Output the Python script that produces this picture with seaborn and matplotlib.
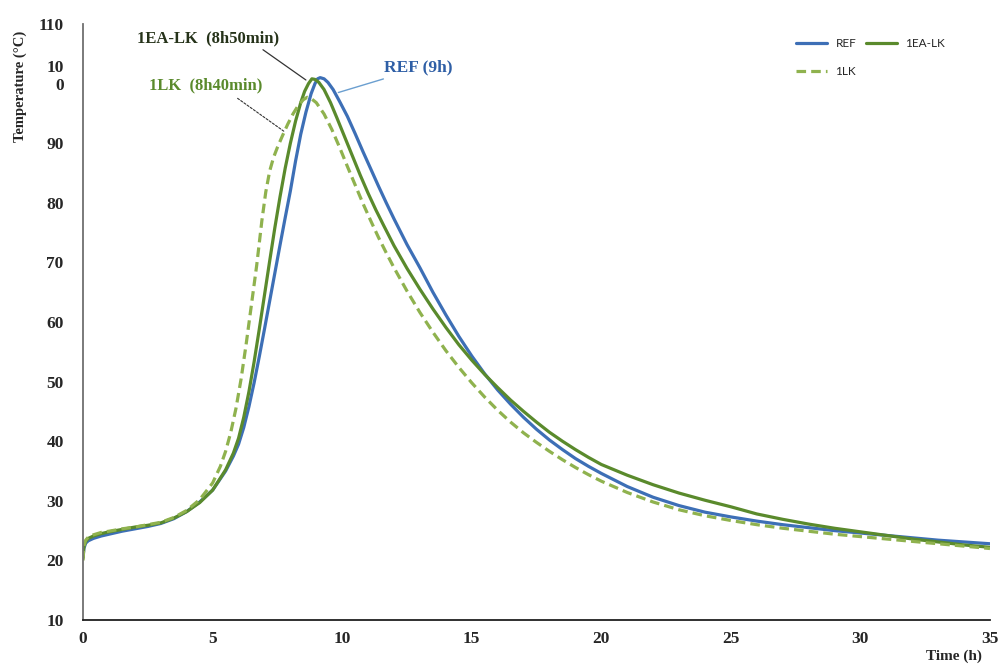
import numpy as np
import pandas as pd
import matplotlib
matplotlib.use("Agg")
import matplotlib.pyplot as plt
import matplotlib.transforms as mtransforms
import seaborn as sns
from matplotlib.lines import Line2D

# ---- data ----
ref_t = [0, 0.03, 0.1, 0.2, 0.4, 0.7, 1, 1.5, 2, 2.5, 3, 3.5, 4, 4.5, 5, 5.5, 5.8, 6.0, 6.2,
         6.4, 6.6, 6.8, 7.0, 7.2, 7.4, 7.6, 7.8, 8.0, 8.2, 8.4, 8.6, 8.8, 8.95, 9.05, 9.15,
         9.3, 9.45, 9.65, 9.9, 10.2, 10.5, 10.8, 11.1, 11.4, 11.7, 12.0, 12.5, 13.0, 13.5,
         14.0, 14.5, 15.0, 15.5, 16.0, 16.5, 17.0, 17.5, 18.0, 18.5, 19.0, 19.5, 20, 21, 22,
         23, 24, 25, 26, 27, 28, 29, 30, 31, 32, 33, 34, 35]
ref_T = [20.5, 22.0, 22.9, 23.3, 23.7, 24.1, 24.4, 24.9, 25.3, 25.7, 26.2, 27.0, 28.2, 29.8,
         31.8, 35.0, 37.5, 39.5, 42.3, 45.8, 49.8, 54.2, 58.8, 63.5, 68.2, 72.9, 77.5, 82.0,
         87.0, 91.5, 95.2, 98.3, 100.0, 100.8, 101.0, 100.8, 100.2, 99.0, 97.0, 94.5, 91.6,
         88.6, 85.7, 82.8, 80.0, 77.3, 73.0, 69.1, 65.0, 61.2, 57.6, 54.3, 51.3, 48.6, 46.2,
         44.0, 42.0, 40.2, 38.6, 37.1, 35.8, 34.6, 32.4, 30.6, 29.2, 28.1, 27.3, 26.6, 26.0,
         25.5, 25.0, 24.6, 24.2, 23.8, 23.4, 23.1, 22.8]

ea_t = [0, 0.03, 0.1, 0.2, 0.4, 0.7, 1, 1.5, 2, 2.5, 3, 3.5, 4, 4.5, 5, 5.5, 5.8, 6.0, 6.2,
        6.4, 6.6, 6.8, 7.0, 7.2, 7.4, 7.6, 7.8, 8.0, 8.2, 8.4, 8.55, 8.7, 8.83, 8.95, 9.1,
        9.3, 9.55, 9.8, 10.1, 10.4, 10.7, 11.0, 11.3, 11.6, 12.0, 12.5, 13.0, 13.5, 14.0,
        14.5, 15.0, 15.5, 16.0, 16.5, 17.0, 17.5, 18.0, 18.5, 19.0, 19.5, 20, 21, 22, 23, 24,
        25, 26, 27, 28, 29, 30, 31, 32, 33, 34, 35]
ea_T = [20.5, 22.3, 23.2, 23.7, 24.1, 24.5, 24.8, 25.2, 25.6, 25.9, 26.3, 27.1, 28.2, 29.7,
        31.8, 35.2, 38.0, 40.5, 44.0, 48.3, 53.3, 58.8, 64.5, 70.2, 75.8, 81.0, 85.8, 90.0,
        93.7, 96.8, 98.7, 100.0, 100.8, 100.7, 100.2, 99.0, 96.8, 94.2, 91.0, 87.8, 84.6,
        81.6, 78.8, 76.2, 72.8, 69.0, 65.5, 62.2, 59.1, 56.2, 53.6, 51.2, 49.0, 46.9, 45.0,
        43.2, 41.5, 40.0, 38.6, 37.3, 36.1, 34.3, 32.7, 31.3, 30.1, 29.0, 27.8, 26.9, 26.1,
        25.4, 24.8, 24.2, 23.6, 23.1, 22.6, 22.2]

lk_t = [0, 0.03, 0.1, 0.2, 0.4, 0.7, 1, 1.5, 2, 2.5, 3, 3.5, 4, 4.5, 5, 5.3, 5.5, 5.7, 5.9,
        6.1, 6.3, 6.5, 6.7, 6.9, 7.05, 7.2, 7.35, 7.5, 7.7, 7.9, 8.1, 8.3, 8.5, 8.65, 8.8,
        9.0, 9.3, 9.6, 9.9, 10.2, 10.5, 10.8, 11.1, 11.4, 11.7, 12.0, 12.5, 13.0, 13.5, 14.0,
        14.5, 15.0, 15.5, 16.0, 16.5, 17.0, 17.5, 18.0, 18.5, 19.0, 19.5, 20, 21, 22, 23, 24,
        25, 26, 27, 28, 29, 30, 31, 32, 33, 34, 35]
lk_T = [20.0, 22.4, 23.4, 23.9, 24.3, 24.7, 24.9, 25.3, 25.6, 26.0, 26.4, 27.2, 28.4, 30.2,
        33.0, 35.8, 38.3, 41.5, 45.5, 50.5, 56.5, 63.0, 69.5, 77.0, 81.8, 85.3, 87.6, 89.3,
        91.3, 93.2, 94.9, 96.3, 97.3, 97.7, 97.5, 96.8, 94.9, 92.3, 89.3, 86.1, 83.0, 79.9,
        77.0, 74.2, 71.6, 69.1, 65.2, 61.6, 58.3, 55.2, 52.4, 49.8, 47.4, 45.2, 43.2, 41.4,
        39.8, 38.3, 36.9, 35.6, 34.4, 33.3, 31.4, 29.8, 28.5, 27.5, 26.7, 26.0, 25.4, 24.9,
        24.4, 24.0, 23.6, 23.2, 22.8, 22.4, 22.0]

series_names = ["REF", "1EA-LK", "1LK"]
x_ticks = [0, 5, 10, 15, 20, 25, 30, 35]
y_ticks = [10, 20, 30, 40, 50, 60, 70, 80, 90, 100, 110]
y_ticklabels = ["10", "20", "30", "40", "50", "60", "70", "80", "90", "10\n0", "110"]

# ---- style ----
sns.set_theme(style="white")
plt.rcParams['font.family'] = ['Liberation Serif', 'DejaVu Serif']

c_ref = "#3d6fb6"
c_ea = "#5a8a2c"
c_lk = "#8fb24e"
dash = (0, (3, 1.6))

fig = plt.figure(figsize=(10.01, 6.66), dpi=100)
ax = fig.add_axes([0.083, 0.069, 0.906, 0.895])

sns.lineplot(x=ref_t, y=ref_T, ax=ax, color=c_ref, linewidth=2.3, sort=False)
sns.lineplot(x=ea_t, y=ea_T, ax=ax, color=c_ea, linewidth=2.3, sort=False)
sns.lineplot(x=lk_t, y=lk_T, ax=ax, color=c_lk, linewidth=2.3, sort=False, linestyle=dash)

ax.set_xlim(0, 35)
ax.set_ylim(10, 110)
ax.set_xticks(x_ticks)
ax.set_xticklabels([str(v) for v in x_ticks], fontsize=12.5, fontweight="bold")
ax.set_yticks(y_ticks)
ax.set_yticklabels(y_ticklabels, fontsize=12.5, fontweight="bold", linespacing=1.15)
ax.tick_params(axis="both", length=0, pad=14)
ax.tick_params(axis="x", pad=8)
# the wrapped "100" label sits a little higher in the reference
lab100 = ax.get_yticklabels()[9]
lab100.set_transform(lab100.get_transform() +
                     mtransforms.ScaledTranslation(0, 7 / 72, fig.dpi_scale_trans))

for s in ["top", "right"]:
    ax.spines[s].set_visible(False)
ax.spines["left"].set_color("#707070")
ax.spines["bottom"].set_color("#202020")
ax.spines["left"].set_linewidth(1.3)
ax.spines["bottom"].set_linewidth(1.3)

ax.set_ylabel("Temperature (°C)", fontsize=10.5, fontweight="bold")
ax.yaxis.set_label_coords(-0.062, 0.895)
ax.set_xlabel("Time (h)", fontsize=11, fontweight="bold")
ax.xaxis.set_label_coords(0.96, -0.05)

# ---- annotations ----
ax.annotate("1EA-LK  (8h50min)", xy=(8.6, 100.6), xytext=(2.1, 106.9),
            fontsize=12, fontweight="bold", color="#26331a",
            arrowprops=dict(arrowstyle="-", color="#333333", lw=0.9,
                            shrinkA=0, shrinkB=0, relpos=(0.85, 0.0)))
ax.annotate("1LK  (8h40min)", xy=(7.75, 92.0), xytext=(2.55, 99.0),
            fontsize=12, fontweight="bold", color=c_ea,
            arrowprops=dict(arrowstyle="-", color="#333333", lw=0.8, linestyle=(0, (2, 1.5)),
                            shrinkA=0, shrinkB=0, relpos=(0.78, -0.3)))
ax.annotate("REF (9h)", xy=(9.85, 98.5), xytext=(11.6, 102.0),
            fontsize=12.5, fontweight="bold", color="#2f5fa6",
            arrowprops=dict(arrowstyle="-", color="#6b9fd0", lw=1.0,
                            shrinkA=0, shrinkB=0, relpos=(0.0, -0.2)))

# ---- legend ----
handles = [Line2D([0], [0], color=c_ref, lw=2.3),
           Line2D([0], [0], color=c_lk, lw=2.3, linestyle=dash),
           Line2D([0], [0], color=c_ea, lw=2.3)]
labels = ["REF", "1LK", "1EA-LK"]
ax.legend(handles, labels, loc="upper right", bbox_to_anchor=(0.962, 0.994), ncol=2,
          frameon=False, handlelength=2.6, columnspacing=0.85, labelspacing=1.45,
          handletextpad=0.7, prop={"family": "Lato", "size": 8.5})

fig.savefig("out.png", dpi=100)
